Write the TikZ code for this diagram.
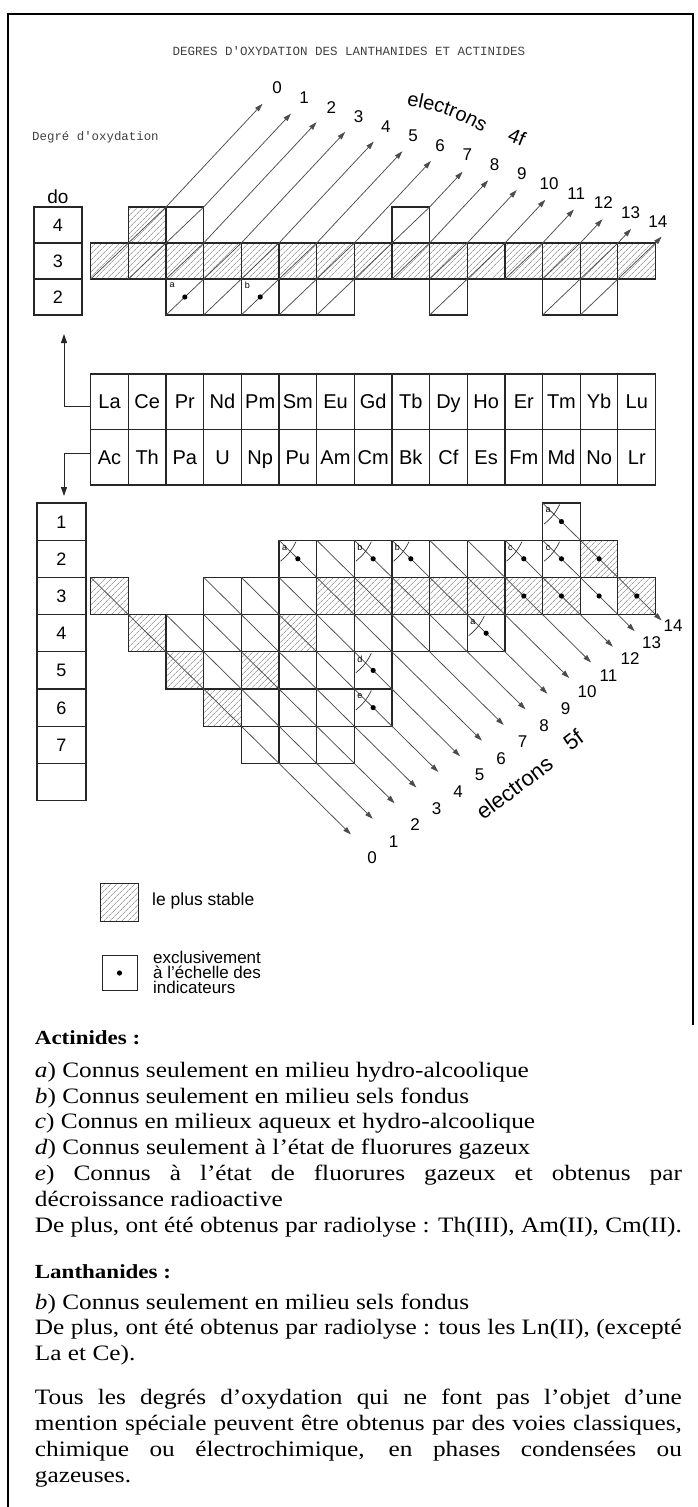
\documentclass[tikz,border=0pt]{standalone}
\usepackage{fontspec}
\setmainfont{Liberation Serif}[FakeStretch=1.15]
\setsansfont{Liberation Sans}
\setmonofont{Liberation Mono}
\usetikzlibrary{arrows.meta, patterns.meta, decorations.text, positioning}
\definecolor{inkgray}{gray}{0.3}
\definecolor{hatchgray}{gray}{0.45}

\begin{document}
\begin{tikzpicture}[x=1pt, y=-1pt,
    cell/.style={draw=black!85, line width=1.1pt},
    hatched/.style={cell, pattern={Lines[angle=45,distance=4pt,line width=0.6pt]}, pattern color=hatchgray},
    eline/.style={draw=inkgray, line width=0.75pt, -{Triangle[length=8pt,width=5pt]}},
    arr/.style={draw=black!85, line width=0.9pt, -{Triangle[length=9pt,width=6pt]}},
    elem/.style={cell, minimum width=37.66pt, minimum height=55.5pt, inner sep=0pt, text height=14pt, text depth=0pt, font=\sffamily\fontsize{20}{20}\selectfont},
    dobox/.style={cell, minimum height=36pt, inner sep=0pt, text height=13pt, text depth=0pt, font=\sffamily\fontsize{18}{18}\selectfont},
    lbl/.style={inner sep=0pt, font=\sffamily\fontsize{17}{17}\selectfont},
    tag/.style={inner sep=0pt, font=\sffamily\fontsize{9}{9}\selectfont},
    txt/.style={anchor=base west, inner sep=0pt, font=\fontsize{22}{25.7}\selectfont},
    head/.style={anchor=base west, inner sep=0pt, font=\bfseries\fontsize{20}{24}\selectfont}]
\useasboundingbox (0,0) rectangle (697,1507);
\def\xorg{90.7}
\def\cwid{37.66}

% Frame and titles
\draw[line width=1.4pt] (8,1507) -- (8,14) -- (693,14) -- (693,1025);
\node[font=\ttfamily\fontsize{12.5}{12.5}\selectfont, text=black!75] (title) at (349,51) {DEGRES D'OXYDATION DES LANTHANIDES ET ACTINIDES};
\node[anchor=west, inner sep=0pt, font=\ttfamily\fontsize{12.4}{12.4}\selectfont, text=black!75] (dolong) at (32,137) {Degré d'oxydation};

% Lanthanides: oxidation-state column
\node[font=\sffamily\fontsize{19}{19}\selectfont] (dolab) at (58,197) {do};
\foreach \n/\y in {4/207, 3/243, 2/279}
  \node[dobox, minimum width=48pt] (dotop-\n) at (58,\y+18) {\n};

% Lanthanides: cells
\foreach \j in {0,...,14}
  \draw[hatched] ({\xorg+\cwid*\j},243) rectangle ++(\cwid,36);
\draw[hatched] ({\xorg+\cwid},207) rectangle ++(\cwid,36);
\foreach \j in {2,8}
  \draw[cell] ({\xorg+\cwid*\j},207) rectangle ++(\cwid,36);
\foreach \j in {2,3,4,5,6,9,12,13}
  \draw[cell] ({\xorg+\cwid*\j},279) rectangle ++(\cwid,36);

% Lanthanides: 4f electron lines
\foreach \k/\sj/\sy/\uj/\uy in {0/0/279/2/207, 1/1/279/3/207, 2/2/279/3/243, 3/2/315/4/243,
    4/3/315/5/243, 5/4/315/6/243, 6/5/315/7/243, 7/6/315/9/207, 8/8/279/9/243,
    9/9/279/10/243, 10/9/315/11/243, 11/11/279/12/243, 12/12/279/13/243,
    13/12/315/14/243, 14/13/315/15/243}{
  \pgfmathsetmacro\upx{\xorg+\cwid*\uj}
  \pgfmathsetmacro\tlen{max(6,(\uy-103-0.3392*(\upx-260))/1.409)}
  \draw[eline] ({\xorg+\cwid*\sj},\sy) -- (\upx,\uy) -- ++(\tlen,{-1.07*\tlen});
}
\foreach \k in {0,...,14}
  \node[lbl] (f4-\k) at ({277+27.2*\k},{88+9.57*\k}) {\k};
\path[decorate, decoration={text along path, text align=center,
    text={|\sffamily\fontsize{20}{20}\selectfont|electrons}}] (396,104) to[bend left=12] (492,138);
\node[font=\sffamily\fontsize{20}{20}\selectfont, rotate=-22] (f4word) at (517,137) {4f};

% marks in Ln(II)
\node[tag] (ln-a) at ({\xorg+\cwid*2+6},285) {a};
\node[tag] (ln-b) at ({\xorg+\cwid*4+6},285) {b};
\foreach \j in {2,4}
  \fill ({\xorg+\cwid*(\j+0.5)},297) circle[radius=2.6pt];

% Element table
\foreach [count=\i from 0] \e in {La,Ce,Pr,Nd,Pm,Sm,Eu,Gd,Tb,Dy,Ho,Er,Tm,Yb,Lu}
  \node[elem] (lan-\i) at ({\xorg+\cwid*(\i+0.5)},401.75) {\e};
\foreach [count=\i from 0] \e in {Ac,Th,Pa,U,Np,Pu,Am,Cm,Bk,Cf,Es,Fm,Md,No,Lr}
  \node[elem] (act-\i) at ({\xorg+\cwid*(\i+0.5)},457.25) {\e};
\coordinate (uptip) at (64,334);
\coordinate (dntip) at (64,496);
\draw[arr] ([yshift=-5pt]lan-0.west) -| (uptip);
\draw[arr] ([yshift=4pt]act-0.west) -| (dntip);

% Actinides: oxidation-state column
\foreach \n/\lab in {1/1,2/2,3/3,4/4,5/5,6/6,7/7,8/{}}
  \node[dobox, minimum width=49pt, minimum height=37.2pt] (dobot-\n) at (61.5,{503+37.2*(\n-0.5)}) {\lab};

% Actinides: cells
\foreach \j/\n in {0/3, 1/4, 2/5, 3/6, 4/5, 5/4, 6/3, 7/3, 8/3, 9/3, 10/3, 11/3, 12/3, 14/3, 13/2}
  \draw[hatched] ({\xorg+\cwid*\j},{503+37.2*(\n-1)}) rectangle ++(\cwid,37.2);
\foreach \j/\n in {12/1, 5/2, 6/2, 7/2, 8/2, 9/2, 10/2, 11/2, 12/2, 3/3, 4/3, 5/3, 13/3,
    2/4, 3/4, 4/4, 6/4, 7/4, 8/4, 9/4, 10/4, 3/5, 5/5, 6/5, 7/5, 4/6, 5/6, 6/6, 7/6, 4/7, 5/7, 6/7}
  \draw[cell] ({\xorg+\cwid*\j},{503+37.2*(\n-1)}) rectangle ++(\cwid,37.2);

% Actinides: 5f electron lines
\foreach \k/\sj/\sn/\ej/\en in {0/0/3/5/8, 1/2/4/6/8, 2/3/4/7/8, 3/3/3/7/7, 4/4/3/8/7,
    5/5/3/8/6, 6/5/2/8/5, 7/6/2/9/5, 8/7/2/10/5, 9/8/2/11/5, 10/9/2/11/4,
    11/10/2/12/4, 12/11/2/13/4, 13/12/2/14/4, 14/12/1/15/4}{
  \pgfmathsetmacro\endx{\xorg+\cwid*\ej}
  \pgfmathsetmacro\endy{503+37.2*(\en-1)}
  \pgfmathsetmacro\tlen{max(6,(833-0.7166*(\endx-353)-\endy)/1.7046)}
  \draw[eline] ({\xorg+\cwid*\sj},{503+37.2*(\sn-1)}) -- ({\endx+\tlen},{\endy+0.988*\tlen});
}
\foreach \k in {0,...,14}
  \node[lbl] (f5-\k) at ({372+21.5*\k},{858-16.6*\k}) {\k};
\path[decorate, decoration={text along path, text align=center,
    text={|\sffamily\fontsize{22}{22}\selectfont|electrons}}] (471,830) -- (567,758);
\path[decorate, decoration={text along path, text align=center,
    text={|\sffamily\fontsize{22}{22}\selectfont|5f}}] (562,758) -- (594,734);

% marks in actinide cells
\foreach \j/\n/\lt in {12/1/a, 5/2/a, 7/2/b, 8/2/b, 11/2/c, 12/2/c, 10/4/a, 7/5/d, 7/6/e}{
  \pgfmathsetmacro\cx{\xorg+\cwid*\j}
  \pgfmathsetmacro\cy{503+37.2*(\n-1)}
  \node[tag] (an-\j-\n) at ({\cx+5.5},{\cy+7.5}) {\lt};
  \draw[black!80, line width=0.7pt] ({\cx+1.5},{\cy+21}) to[bend right=12] ({\cx+17},{\cy+1.5});
}
\foreach \j/\n in {12/1, 5/2, 7/2, 8/2, 11/2, 12/2, 13/2, 11/3, 12/3, 13/3, 14/3, 10/4, 7/5, 7/6}
  \fill ({\xorg+\cwid*(\j+0.5)},{503+37.2*(\n-0.5)}) circle[radius=2.6pt];

% Legend
\draw[hatched, line width=0.9pt] (100,883) rectangle (138,921);
\node[anchor=west, inner sep=0pt, font=\sffamily\fontsize{17.5}{17.5}\selectfont] (leg-stab) at (152,901) {le plus stable};
\draw[cell, line width=0.9pt] (102,955) rectangle (137,990);
\fill (119.5,973) circle[radius=2.6pt];
\node[anchor=west, inner sep=0pt, align=left, font=\sffamily\fontsize{17}{15}\selectfont] (leg-ind) at (153,972) {exclusivement\\à l'échelle des\\indicateurs};

% Notes
\node[head] (h-act) at (34.7,1044) {Actinides :};
\node[txt] (n-a) at (34.7,1077) {\textit{a}) Connus seulement en milieu hydro-alcoolique};
\node[txt] (n-b) at (34.7,1103) {\textit{b}) Connus seulement en milieu sels fondus};
\node[txt] (n-c) at (34.7,1128) {\textit{c}) Connus en milieux aqueux et hydro-alcoolique};
\node[txt] (n-d) at (34.7,1154) {\textit{d}) Connus seulement à l'état de fluorures gazeux};
\node[txt] (n-e) at (34.7,1180) {\makebox[647pt][s]{\textit{e}) Connus à l'état de fluorures gazeux et obtenus par}};
\node[txt] (n-e2) at (34.7,1206) {décroissance radioactive};
\node[txt] (n-rad) at (34.7,1232) {\makebox[647pt][s]{De plus, ont été obtenus par radiolyse : Th(III), Am(II), Cm(II).}};
\node[head] (h-lan) at (34.7,1278) {Lanthanides :};
\node[txt] (l-b) at (34.7,1309) {\textit{b}) Connus seulement en milieu sels fondus};
\node[txt] (l-rad) at (34.7,1334) {\makebox[647pt][s]{De plus, ont été obtenus par radiolyse : tous les Ln(II), (excepté}};
\node[txt] (l-rad2) at (34.7,1360) {La et Ce).};
\node[txt] (g-1) at (34.7,1404) {\makebox[647pt][s]{Tous les degrés d'oxydation qui ne font pas l'objet d'une}};
\node[txt] (g-2) at (34.7,1430) {\makebox[647pt][s]{mention spéciale peuvent être obtenus par des voies classiques,}};
\node[txt] (g-3) at (34.7,1456) {\makebox[647pt][s]{chimique ou électrochimique, en phases condensées ou}};
\node[txt] (g-4) at (34.7,1482) {gazeuses.};
\end{tikzpicture}
\end{document}
